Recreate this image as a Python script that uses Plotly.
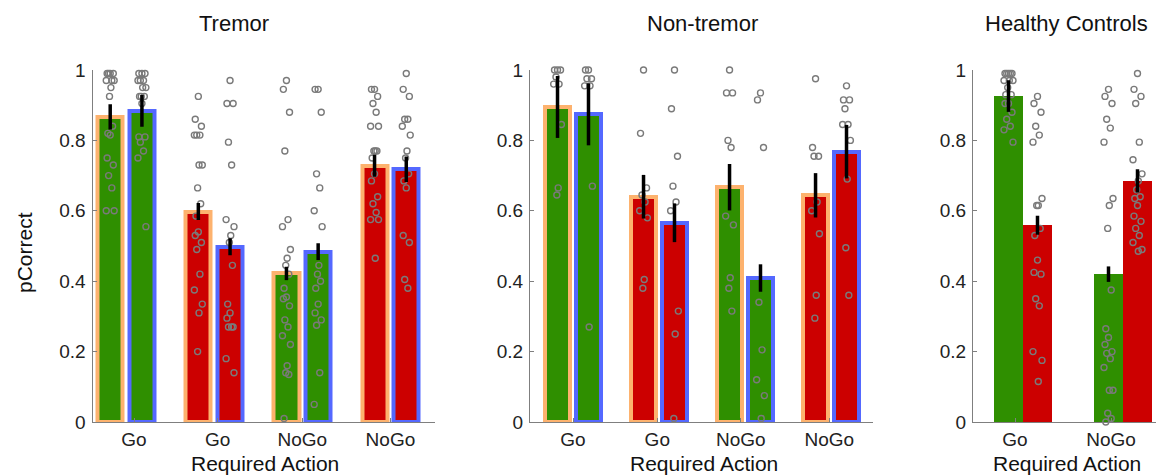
import plotly.graph_objects as go

# ---------------- data ----------------
y_ticks = [0, 0.2, 0.4, 0.6, 0.8, 1]
y_tick_text = ["0", "0.2", "0.4", "0.6", "0.8", "1"]

# Tremor (4 groups, two outlined bars per group: orange = A, blue = B)
tremor_actions = ["Go", "Go", "NoGo", "NoGo"]
tremor_valence = ["win", "avoid", "win", "avoid"]
tremor_mean_a = [0.867, 0.598, 0.422, 0.728]
tremor_mean_b = [0.884, 0.498, 0.484, 0.718]
tremor_sem_a = [0.036, 0.024, 0.019, 0.031]
tremor_sem_b = [0.045, 0.024, 0.024, 0.036]
tremor_pts_a = [
    [0.99, 0.99, 0.99, 0.99, 0.97, 0.97, 0.97, 0.95, 0.925, 0.84, 0.82, 0.815, 0.75, 0.73, 0.70, 0.665, 0.60, 0.60],
    [0.925, 0.86, 0.84, 0.815, 0.815, 0.815, 0.73, 0.73, 0.665, 0.62, 0.585, 0.54, 0.53, 0.51, 0.49, 0.42, 0.375, 0.335, 0.31, 0.2],
    [0.97, 0.945, 0.88, 0.77, 0.575, 0.555, 0.49, 0.465, 0.445, 0.42, 0.38, 0.355, 0.35, 0.33, 0.29, 0.27, 0.245, 0.22, 0.16, 0.14, 0.135, 0.01],
    [0.945, 0.945, 0.925, 0.905, 0.88, 0.84, 0.84, 0.77, 0.77, 0.77, 0.75, 0.705, 0.685, 0.64, 0.62, 0.595, 0.575, 0.575, 0.465],
]
tremor_pts_b = [
    [0.99, 0.99, 0.99, 0.97, 0.97, 0.97, 0.95, 0.95, 0.925, 0.925, 0.925, 0.905, 0.81, 0.81, 0.795, 0.77, 0.75, 0.555],
    [0.97, 0.905, 0.905, 0.795, 0.73, 0.575, 0.555, 0.53, 0.51, 0.445, 0.335, 0.31, 0.295, 0.27, 0.27, 0.27, 0.18, 0.14],
    [0.945, 0.945, 0.88, 0.705, 0.665, 0.6, 0.555, 0.445, 0.42, 0.4, 0.38, 0.335, 0.31, 0.29, 0.275, 0.14, 0.05],
    [0.99, 0.945, 0.925, 0.86, 0.86, 0.84, 0.815, 0.77, 0.75, 0.705, 0.685, 0.665, 0.53, 0.51, 0.405, 0.38],
]

# Non-tremor
nontremor_actions = ["Go", "Go", "NoGo", "NoGo"]
nontremor_valence = ["win", "avoid", "win", "avoid"]
nontremor_mean_a = [0.895, 0.640, 0.667, 0.644]
nontremor_mean_b = [0.874, 0.566, 0.409, 0.768]
nontremor_sem_a = [0.088, 0.062, 0.066, 0.063]
nontremor_sem_b = [0.088, 0.055, 0.039, 0.076]
nontremor_pts_a = [
    [1.0, 1.0, 1.0, 0.98, 0.96, 0.96, 0.845, 0.665, 0.645],
    [1.0, 0.82, 0.665, 0.645, 0.625, 0.6, 0.58, 0.405, 0.38],
    [1.0, 0.935, 0.935, 0.8, 0.78, 0.585, 0.56, 0.41, 0.38, 0.315],
    [0.975, 0.78, 0.755, 0.755, 0.625, 0.6, 0.535, 0.36, 0.295],
]
nontremor_pts_b = [
    [1.0, 1.0, 0.975, 0.975, 0.955, 0.955, 0.67, 0.27],
    [1.0, 0.89, 0.755, 0.67, 0.625, 0.6, 0.315, 0.25, 0.01],
    [0.935, 0.915, 0.78, 0.34, 0.205, 0.12, 0.075, 0.01],
    [0.955, 0.915, 0.915, 0.89, 0.845, 0.845, 0.8, 0.69, 0.495, 0.36],
]

# Healthy controls (2 groups, win / avoid bars side by side)
hc_actions = ["Go", "NoGo"]
hc_mean_win = [0.926, 0.420]
hc_mean_avoid = [0.559, 0.685]
hc_sem_win = [0.045, 0.022]
hc_sem_avoid = [0.027, 0.033]
hc_pts_win = [
    [0.99, 0.99, 0.99, 0.99, 0.99, 0.97, 0.97, 0.97, 0.95, 0.93, 0.93, 0.905, 0.905, 0.88, 0.86, 0.84, 0.83, 0.795],
    [0.945, 0.925, 0.905, 0.86, 0.835, 0.795, 0.635, 0.615, 0.55, 0.375, 0.265, 0.24, 0.22, 0.2, 0.195, 0.18, 0.155, 0.09, 0.09, 0.025, 0.01, 0.0],
]
hc_pts_avoid = [
    [0.925, 0.905, 0.88, 0.84, 0.815, 0.795, 0.635, 0.615, 0.615, 0.55, 0.53, 0.46, 0.425, 0.42, 0.35, 0.33, 0.2, 0.175, 0.115],
    [0.99, 0.945, 0.925, 0.905, 0.795, 0.745, 0.705, 0.685, 0.66, 0.64, 0.635, 0.615, 0.585, 0.57, 0.55, 0.53, 0.51, 0.49, 0.485],
]

# ---------------- style ----------------
FONT = "Liberation Sans, Arial, Helvetica, sans-serif"
GREEN = "#2F8F00"
RED = "#CC0000"
ORANGE = "#FDB26E"
BLUE = "#5468FF"
DOT = "#7A7A7A"
AXIS = "#7F7F7F"
FILL = {"win": GREEN, "avoid": RED}
JITTER = [0.0, -0.035, 0.035, -0.018, 0.018, -0.045, 0.045, 0.008, -0.008, 0.027, -0.027]

# the page body has an 8px margin, so the figure starts at (8, 8) of the window
OFF = 8
W, H = 1164 - OFF, 476 - OFF
Y0, Y1 = 422, 70  # window rows of value 0 and 1


def px(x):
    return (x - OFF) / W


def py(y):
    return 1 - (y - OFF) / H


fig = go.Figure()


def add_dots(xa, ya, xc, values):
    xs = [xc + JITTER[i % len(JITTER)] for i in range(len(values))]
    fig.add_trace(go.Scatter(
        x=xs, y=values, xaxis=xa, yaxis=ya, mode="markers",
        marker=dict(symbol="circle-open", size=6, color=DOT, line=dict(width=1.4, color=DOT)),
        cliponaxis=False, showlegend=False, hoverinfo="y"))


def add_err(xa, ya, xs, means, sems):
    fig.add_trace(go.Scatter(
        x=xs, y=means, xaxis=xa, yaxis=ya, mode="markers",
        marker=dict(size=1, color="rgba(0,0,0,0)"),
        error_y=dict(type="data", array=sems, color="black", thickness=3.5, width=0),
        cliponaxis=False, showlegend=False, hoverinfo="skip"))


def outlined_panel(xa, ya, valence, mean_a, mean_b, sem_a, sem_b, pts_a, pts_b):
    n = len(valence)
    pos = list(range(1, n + 1))
    xa_pos = [p - 0.18 for p in pos]
    xb_pos = [p + 0.18 for p in pos]
    fills = [FILL[v] for v in valence]
    for xp, means, edge in ((xa_pos, mean_a, ORANGE), (xb_pos, mean_b, BLUE)):
        fig.add_trace(go.Bar(
            x=xp, y=means, xaxis=xa, yaxis=ya, width=0.285,
            marker=dict(color=fills, line=dict(color=edge, width=4)),
            showlegend=False))
    for i in range(n):
        add_dots(xa, ya, xa_pos[i], pts_a[i])
        add_dots(xa, ya, xb_pos[i], pts_b[i])
    add_err(xa, ya, xa_pos, mean_a, sem_a)
    add_err(xa, ya, xb_pos, mean_b, sem_b)


outlined_panel("x", "y", tremor_valence, tremor_mean_a, tremor_mean_b,
               tremor_sem_a, tremor_sem_b, tremor_pts_a, tremor_pts_b)
outlined_panel("x2", "y2", nontremor_valence, nontremor_mean_a, nontremor_mean_b,
               nontremor_sem_a, nontremor_sem_b, nontremor_pts_a, nontremor_pts_b)

# healthy controls
hc_pos = list(range(1, len(hc_actions) + 1))
hc_xw = [p - 0.145 for p in hc_pos]
hc_xa = [p + 0.145 for p in hc_pos]
fig.add_trace(go.Bar(x=hc_xw, y=hc_mean_win, xaxis="x3", yaxis="y3", width=0.29,
                     marker=dict(color=GREEN, line=dict(width=0)), showlegend=False))
fig.add_trace(go.Bar(x=hc_xa, y=hc_mean_avoid, xaxis="x3", yaxis="y3", width=0.29,
                     marker=dict(color=RED, line=dict(width=0)), showlegend=False))
for i in range(len(hc_actions)):
    add_dots("x3", "y3", hc_xw[i], hc_pts_win[i])
    add_dots("x3", "y3", hc_xa[i], hc_pts_avoid[i])
add_err("x3", "y3", hc_xw, hc_mean_win, hc_sem_win)
add_err("x3", "y3", hc_xa, hc_mean_avoid, hc_sem_avoid)

# ---------------- layout ----------------
ydom = [py(Y0), py(Y1)]


def xaxis(px0, px1, rng, tickpos, ticktext):
    return dict(domain=[px(px0), min(1.0, px(px1))], range=rng, showline=True, linecolor=AXIS,
                linewidth=1.2, ticks="inside", ticklen=4, tickcolor=AXIS,
                tickvals=tickpos, ticktext=ticktext, showgrid=False, zeroline=False,
                automargin=False,
                tickfont=dict(family=FONT, size=19, color="#222"), fixedrange=True)


def yaxis(anchor):
    return dict(domain=ydom, range=[0, 1], anchor=anchor, showline=True, linecolor=AXIS,
                linewidth=1.2, ticks="inside", ticklen=4, tickcolor=AXIS,
                tickvals=y_ticks, ticktext=y_tick_text, showgrid=False, zeroline=False,
                automargin=False,
                tickfont=dict(family=FONT, size=19, color="#222"), ticklabelstandoff=2,
                fixedrange=True)


fig.update_layout(
    width=W, height=H, margin=dict(l=0, r=0, t=0, b=0, autoexpand=False),
    paper_bgcolor="white", plot_bgcolor="white", barmode="overlay", bargap=0,
    font=dict(family=FONT, color="#111"),
    xaxis=dict(xaxis(92.5, 435, [0.619, 4.506], [1.09, 2.04, 3.0, 4.0], tremor_actions), anchor="y"),
    xaxis2=dict(xaxis(530, 873, [0.5, 4.488], [1.0, 1.98, 2.95, 3.98], nontremor_actions), anchor="y2"),
    xaxis3=dict(xaxis(973, 1164, [0.5, 2.41], [0.92, 1.88], hc_actions), anchor="y3"),
    yaxis=yaxis("x"),
    yaxis2=yaxis("x2"),
    yaxis3=yaxis("x3"),
)

annotations = [
    dict(text="Tremor", x=234, y=24, size=22),
    dict(text="Non-tremor", x=702, y=24, size=22),
    dict(text="Healthy Controls", x=1066, y=24, size=22),
    dict(text="Required Action", x=265, y=463, size=21),
    dict(text="Required Action", x=704, y=463, size=21),
    dict(text="Required Action", x=1067, y=463, size=21),
]
for a in annotations:
    fig.add_annotation(text=a["text"], x=px(a["x"]), y=py(a["y"]), xref="paper", yref="paper",
                       xanchor="center", yanchor="middle", showarrow=False,
                       font=dict(family=FONT, size=a["size"], color="#111"))
fig.add_annotation(text="pCorrect", x=px(24), y=py(253), xref="paper", yref="paper",
                   xanchor="center", yanchor="middle", showarrow=False, textangle=-90,
                   font=dict(family=FONT, size=21, color="#111"))

fig.write_html("out.html")
